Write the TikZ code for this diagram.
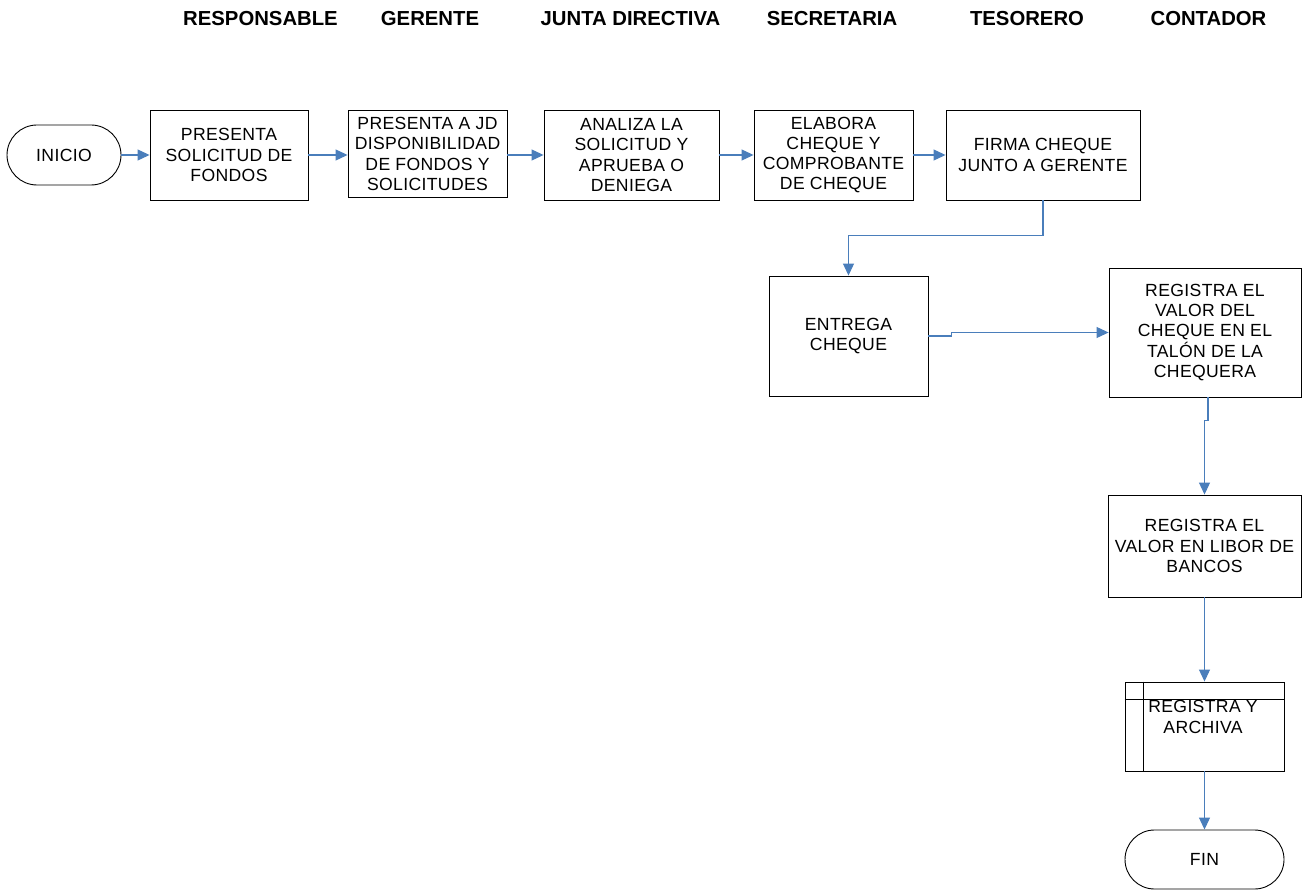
\documentclass[tikz,border=0pt]{standalone}
\usepackage{fontspec}
\setmainfont{Liberation Sans}
\newfontfamily\boxfont[LetterSpace=2]{Liberation Sans}
\usetikzlibrary{arrows.meta,shapes.misc}
\definecolor{flow}{HTML}{4A7EBB}
\begin{document}
\begin{tikzpicture}[x=1pt,y=-1pt,
  boxtext/.style={align=center,inner sep=0pt,font=\boxfont\fontsize{17.6}{20.3}\selectfont},
  proc/.style={boxtext,draw=black,line width=0.9pt},
  term/.style={proc,rounded rectangle},
  lane/.style={anchor=base,inner sep=0pt,font=\bfseries\fontsize{20.3}{24}\selectfont},
  flowline/.style={draw=flow,line width=1.1pt,-{Triangle[length=12pt,width=11pt]}}]
\useasboundingbox (0,0) rectangle (1306,890);

% lane headings
\node[lane] (hresp) at (260.5,26) {RESPONSABLE};
\node[lane] (hger)  at (430,26)   {GERENTE};
\node[lane] (hjd)   at (630.5,26) {JUNTA DIRECTIVA};
\node[lane] (hsec)  at (832,26)   {SECRETARIA};
\node[lane] (htes)  at (1027,26)  {TESORERO};
\node[lane] (hcon)  at (1208.5,26) {CONTADOR};

% process steps
\node[term,minimum width=114pt,minimum height=60pt] (inicio) at (64,155) {INICIO};
\node[proc,minimum width=158pt,minimum height=90pt] (b1) at (229,155) {PRESENTA\\SOLICITUD DE\\FONDOS};
\node[proc,minimum width=159pt,minimum height=87pt] (b2) at (427.5,154) {PRESENTA A JD\\DISPONIBILIDAD\\DE FONDOS Y\\SOLICITUDES};
\node[proc,minimum width=175pt,minimum height=90pt] (b3) at (631.5,155) {ANALIZA LA\\SOLICITUD Y\\APRUEBA O\\DENIEGA};
\node[proc,minimum width=159pt,minimum height=90pt] (b4) at (833.5,155) {ELABORA\\CHEQUE Y\\COMPROBANTE\\DE CHEQUE};
\node[proc,minimum width=194pt,minimum height=90pt] (b5) at (1043,155) {FIRMA CHEQUE\\JUNTO A GERENTE};
\node[proc,minimum width=159pt,minimum height=120pt] (entrega) at (848.5,336) {ENTREGA\\CHEQUE};
\node[proc,minimum width=192pt,minimum height=129pt] (rcheque) at (1205,332.5) {REGISTRA EL\\VALOR DEL\\CHEQUE EN EL\\TALÓN DE LA\\CHEQUERA};
\node[proc,minimum width=193pt,minimum height=102pt] (rlibor) at (1204.5,546) {REGISTRA EL\\VALOR EN LIBOR DE\\BANCOS};
\node[draw=black,line width=0.9pt,minimum width=159pt,minimum height=89pt] (archiva) at (1204.5,726.5) {};
\draw[line width=0.9pt] ([xshift=19pt]archiva.north west) -- ([xshift=19pt]archiva.south west);
\draw[line width=0.9pt] ([yshift=-18pt]archiva.north west) -- ([yshift=-18pt]archiva.north east);
\node[boxtext] (archivatext) at (1203,717) {REGISTRA Y\\ARCHIVA};
\node[term,minimum width=159pt,minimum height=59pt] (fin) at (1204.5,859.5) {FIN};

% connectors
\draw[flowline] (inicio.east) -- (b1.west);
\draw[flowline] (b1.east) -- (b1.east -| b2.west);
\draw[flowline] (b3.west -| b2.east) -- (b3.west);
\draw[flowline] (b3.east) -- (b4.west);
\draw[flowline] (b4.east) -- (b5.west);
\draw[flowline] (b5.south) -- ++(0,35) -| (entrega.north);
\draw[flowline] (entrega.east) -- ++(23,0) |- (rcheque.west);
\draw[flowline] ([xshift=3pt]rcheque.south) -- ++(0,23) -| (rlibor.north);
\draw[flowline] (rlibor.south) -- (archiva.north);
\draw[flowline] (archiva.south) -- (fin.north);
\end{tikzpicture}
\end{document}
